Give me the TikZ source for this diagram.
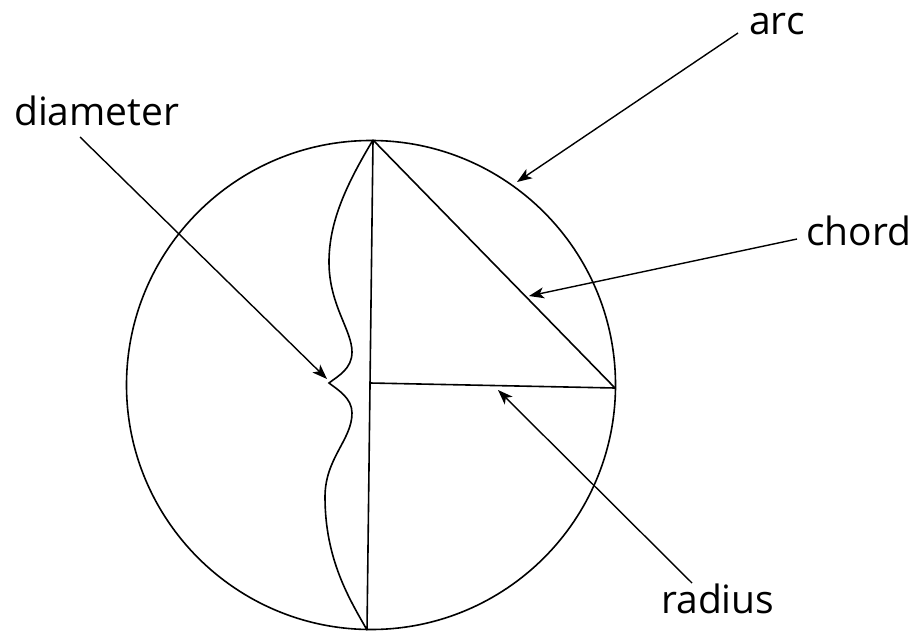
\documentclass[tikz,border=0pt]{standalone}
\usepackage{fontspec}
\setmainfont{Open Sans}
\usepackage{tikz}
\usetikzlibrary{
	positioning,
	arrows.meta
}

\begin{document}
\begin{tikzpicture}[
				x=1pt, y=-1pt,
				term/.style={
					inner sep=0pt,
					anchor=base west,
					font=\fontsize{39}{44}\selectfont
				},
				arrow/.style={
					-{Stealth[length=15pt, width=11pt, inset=4pt]},
					line width=1.4pt
				},
				outline/.style={
					line width=1.6pt
				}
				]
				
				\useasboundingbox (0,0) rectangle (917,631);
				
				% points on the circle
				\coordinate (centre) at (371,385);
				\coordinate (top) at (373,140);
				\coordinate (bottom) at (367,630);
				\coordinate (mid) at (370,383);
				\coordinate (east) at (615,388);
				
				\draw[outline] (centre) circle (244.5pt);
				\draw[outline] (top) -- (bottom);
				\draw[outline] (top) -- (east);
				\draw[outline] (mid) -- (east);
				
				% brace along the diameter
				\draw[outline] (top)
					.. controls (346,185) and (329,222) .. (329,262)
					.. controls (329,305) and (352,330) .. (352,352)
					.. controls (352,369) and (338,376) .. (329,383)
					.. controls (338,390) and (352,398) .. (352,413)
					.. controls (352,440) and (325,458) .. (325,497)
					.. controls (325,560) and (350,600) .. (bottom);
				
				% arrow tips
				\coordinate (arctip) at (517,182);
				\coordinate (chordtip) at (529,296);
				\coordinate (radiustip) at (498,390);
				\coordinate (diamtip) at (327,379);
				
				\node[term] (arc) at (749,35) {arc};
				\node[term] (chord) at (806,245) {chord};
				\node[term] (radius) at (661,613) {radius};
				\node[term] (diam) at (14,126) {diameter};
				
				\draw[arrow] ([shift={(-11,-2)}]arc.base west) -- (arctip);
				\draw[arrow] ([shift={(-9,-6)}]chord.base west) -- (chordtip);
				\draw[arrow] ([shift={(31,-30)}]radius.base west) -- (radiustip);
				\draw[arrow] ([shift={(66,11)}]diam.base west) -- (diamtip);
				
\end{tikzpicture}
\end{document}
